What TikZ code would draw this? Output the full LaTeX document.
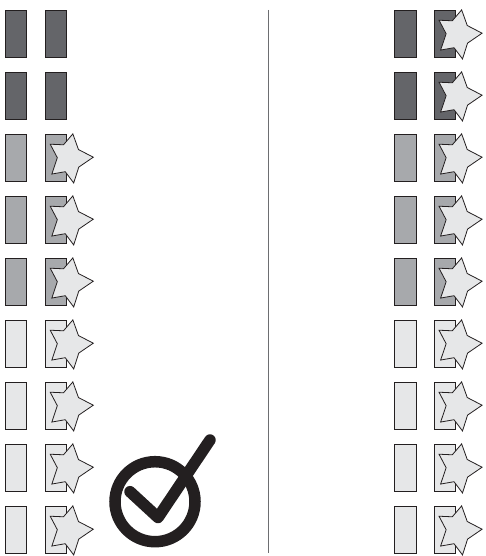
\documentclass[tikz,border=0pt]{standalone}
\definecolor{ink}{HTML}{231F20}
\definecolor{darkf}{HTML}{646569}
\definecolor{midf}{HTML}{A7A9AC}
\definecolor{lightf}{HTML}{E6E7E8}
\definecolor{rule}{HTML}{6D6E71}
\tikzset{
  bar/.style={draw=ink, line width=0.8pt, inner sep=0pt, outer sep=0pt,
              minimum width=21.5pt, minimum height=47pt},
  starpath/.style={draw=ink, line width=0.8pt, fill=lightf, line join=miter},
  tick/.style={draw=ink, line width=11.5pt, line cap=round, line join=round},
}
\newcommand{\drawstar}[1]{%
  \begin{scope}[shift={(#1)}, yscale=-1]
    \draw[starpath] (3:24.8) -- (42:13.4) -- (80:25) -- (110:14.6) -- (142:23.2)
      -- (176:11.2) -- (223:22.8) -- (256:13.6) -- (282:25) -- (320:13.4) -- cycle;
  \end{scope}}
\begin{document}
\begin{tikzpicture}[x=1pt, y=-1pt]
\useasboundingbox (0,0) rectangle (486,556);
\foreach \i/\f in {1/darkf,2/darkf,3/midf,4/midf,5/midf,6/lightf,7/lightf,8/lightf,9/lightf}{
  \pgfmathsetmacro{\yc}{33.5+62*(\i-1)}
  \node[bar, fill=\f] (La\i) at (16,\yc) {};
  \node[bar, fill=\f] (Lb\i) at (56,\yc) {};
  \node[bar, fill=\f] (Ra\i) at (405.2,\yc) {};
  \node[bar, fill=\f] (Rb\i) at (444.8,\yc) {};
  \coordinate (Rs\i) at ([xshift=12.5pt, yshift=-1pt]Rb\i.center);
  \drawstar{Rs\i}
}
\foreach \i in {3,...,9}{
  \coordinate (Ls\i) at ([xshift=12.5pt, yshift=-1pt]Lb\i.center);
  \drawstar{Ls\i}
}
% divider
\coordinate (dtop) at (268.3,10);
\coordinate (dbot) at (268.3,553);
\draw[rule, line width=1.3pt] (dtop) -- (dbot);
% check mark
\node[draw=ink, circle, line width=11.5pt, minimum size=80pt, inner sep=0pt] (ring) at (155,501.7) {};
\coordinate (c1) at (130,491.7);
\coordinate (c2) at (158,517.5);
\coordinate (c3) at (210,440);
\draw[tick] (c1) -- (c2) -- (c3);
\end{tikzpicture}
\end{document}
